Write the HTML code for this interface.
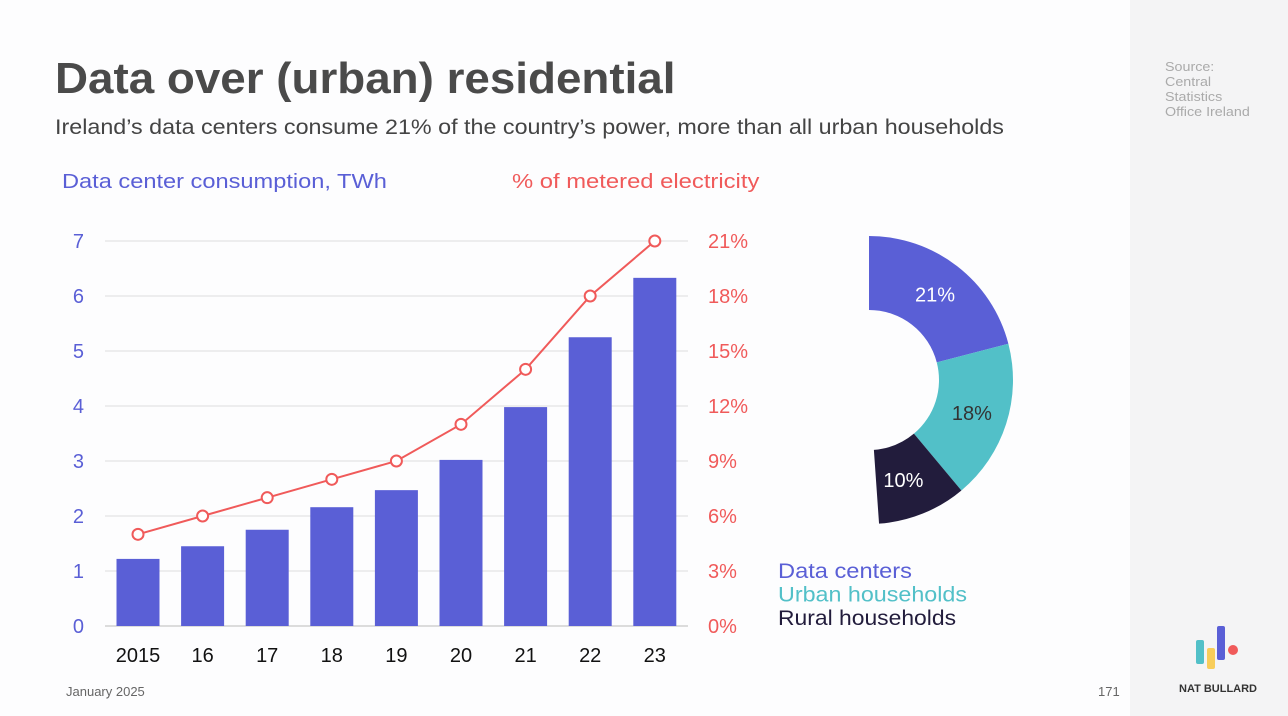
<!DOCTYPE html>
<html><head><meta charset="utf-8"><style>
body{margin:0;width:1288px;height:716px;background:#fdfdfe;font-family:"Liberation Sans",sans-serif;overflow:hidden;position:relative}
.side{position:absolute;left:1130px;top:0;width:158px;height:716px;background:#f4f4f5}
.t{position:absolute;white-space:nowrap;transform-origin:0 0}
</style></head><body>
<div class="side"></div>
<div class="t" style="left:55px;top:54px;font-size:44px;font-weight:bold;color:#4a4a4a;transform:scaleX(1.04)">Data over (urban) residential</div>
<div class="t" style="left:55px;top:116px;font-size:21px;color:#444;transform:scaleX(1.11)">Ireland’s data centers consume 21% of the country’s power, more than all urban households</div>
<div class="t" style="left:1165px;top:59px;font-size:13px;line-height:15px;color:#aaa;transform:scaleX(1.1)">Source:<br>Central<br>Statistics<br>Office Ireland</div>
<div class="t" style="left:62px;top:171px;font-size:20px;color:#5a5fd6;transform:scaleX(1.18)">Data center consumption, TWh</div>
<div class="t" style="left:512px;top:171px;font-size:20px;color:#f05a5a;transform:scaleX(1.19)">% of metered electricity</div>
<div class="t" style="left:66px;top:684px;font-size:13px;color:#666">January 2025</div>
<div class="t" style="left:1098px;top:684px;font-size:13px;color:#666">171</div>
<div class="t" style="left:1179px;top:683px;font-size:11px;font-weight:bold;color:#333">NAT BULLARD</div>
<svg width="1288" height="716" style="position:absolute;left:0;top:0" id="svg">
<g>
<rect x="1196" y="640" width="8" height="24" rx="2" fill="#52c0c8"/>
<rect x="1207" y="648" width="8" height="21" rx="2" fill="#f8cd5a"/>
<rect x="1217" y="626" width="8" height="34" rx="2" fill="#5a5fd6"/>
<circle cx="1233" cy="650" r="5" fill="#f05a5a"/>
</g>
</svg>
<script>
const categories=["2015","16","17","18","19","20","21","22","23"];
const twh=[1.22,1.45,1.75,2.16,2.47,3.02,3.98,5.25,6.33];
const pct=[5,6,7,8,9,11,14,18,21];
const leftTicks=[0,1,2,3,4,5,6,7];
const rightTicks=[0,3,6,9,12,15,18,21];
const donutLabels=["Data centers","Urban households","Rural households"];
const donutValues=[21,18,10];
const donutColors=["#5a5fd6","#52c0c8","#221c3c"];
const donutText=["#fff","#333","#fff"];
const svg=document.getElementById('svg');const NS="http://www.w3.org/2000/svg";
function mk(t,a,p){const e=document.createElementNS(NS,t);for(const k in a)e.setAttribute(k,a[k]);(p||svg).appendChild(e);return e;}
const y=v=>626-v*55, yp=v=>626-v*(385/21), x=i=>138+i*64.6;
leftTicks.forEach(v=>{
 const l=mk('line',{x1:105,x2:688,y1:y(v),y2:y(v),stroke:v==0?'#bbb':'#ddd','stroke-width':1});
 
 
 const t=mk('text',{x:84,y:y(v)+7,'font-size':20,fill:'#5a5fd6','text-anchor':'end'});t.textContent=v;
 
 
});
rightTicks.forEach(v=>{
 const t=mk('text',{x:708,y:yp(v)+7,'font-size':20,fill:'#f05a5a'});t.textContent=v+'%';
 
 
});
categories.forEach((c,i)=>{
 const b=mk('rect',{x:x(i)-21.5,y:y(twh[i]),width:43,height:twh[i]*55,fill:'#5a5fd6'});
 
 
 const t=mk('text',{x:x(i),y:662,'font-size':20,fill:'#111','text-anchor':'middle'});t.textContent=c;
 
 
});
const pl=mk('polyline',{points:pct.map((v,i)=>x(i)+','+yp(v)).join(' '),fill:'none',stroke:'#f05a5a','stroke-width':2});


pct.forEach((v,i)=>{
 const c=mk('circle',{cx:x(i),cy:yp(v),r:5.5,fill:'#fff',stroke:'#f05a5a','stroke-width':2});
 
 
});
const cx=869,cy=380,R=144,r=70,span=176;const tot=donutValues.reduce((a,b)=>a+b,0);
let a0=0;const pt=(rad,deg)=>[cx+rad*Math.sin(deg*Math.PI/180),cy-rad*Math.cos(deg*Math.PI/180)];
donutValues.forEach((v,i)=>{
 const a1=a0+v/tot*span;const p1=pt(R,a0),p2=pt(R,a1),p3=pt(r,a1),p4=pt(r,a0);
 const s=mk('path',{d:`M${p1}A${R},${R} 0 0 1 ${p2}L${p3}A${r},${r} 0 0 0 ${p4}Z`,fill:donutColors[i]});
 
 
 const m=pt(108,(a0+a1)/2);
 const t=mk('text',{x:m[0]+(i==2?-6:0),y:m[1]+7,'font-size':20,fill:donutText[i],'text-anchor':'middle'});t.textContent=v+'%';
 
 
 const lg=mk('text',{x:778,y:578+i*23.5,'font-size':21,fill:donutColors[i],textLength:[134,189,178][i],lengthAdjust:'spacingAndGlyphs'});lg.textContent=donutLabels[i];
 
 
 a0=a1;
});
</script>
</body></html>
